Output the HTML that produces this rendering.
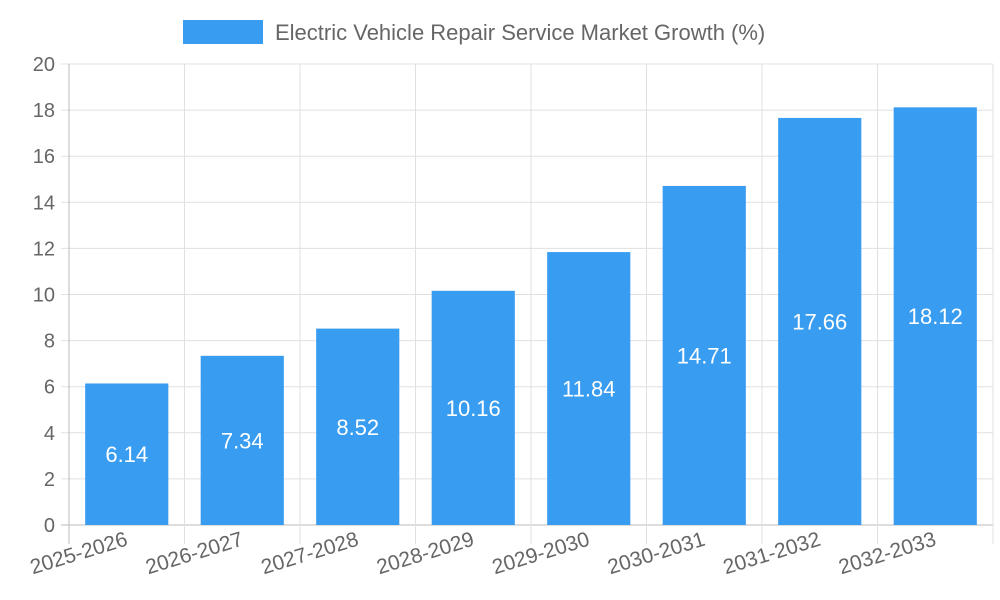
<!DOCTYPE html>
<html><head><meta charset="utf-8"><style>
body{margin:0;background:#fff;}
svg{display:block;font-family:"Liberation Sans",sans-serif;}
</style></head><body>
<svg width="1000" height="600">
<g id="g"></g>
</svg>
<script>
const categories=["2025-2026","2026-2027","2027-2028","2028-2029","2029-2030","2030-2031","2031-2032","2032-2033"];
const values=[6.14,7.34,8.52,10.16,11.84,14.71,17.66,18.12];
const yTicks=[0,2,4,6,8,10,12,14,16,18,20];
const L=69,R=993,T=64,B=525,yMax=20;
const bw=(R-L)/categories.length;
const y=v=>B-(v/yMax)*(B-T);
const x=i=>L+i*bw;
const g=document.getElementById('g');
const NS='http://www.w3.org/2000/svg';
function mk(t,a,txt){const e=document.createElementNS(NS,t);for(const k in a)e.setAttribute(k,a[k]);if(txt!=null)e.textContent=txt;g.appendChild(e);return e;}
// legend
let e=mk('rect',{x:183,y:20,width:80,height:24,fill:'#389cf0'});


e=mk('text',{x:275,y:40,'font-size':22,fill:'#666'},'Electric Vehicle Repair Service Market Growth (%)');


// horizontal grid + y ticks
yTicks.forEach(t=>{
 e=mk('line',{x1:L-8,x2:R,y1:y(t),y2:y(t),stroke:t===0?'#bbb':'#e0e0e0','stroke-width':1});
 
 
 e=mk('text',{x:L-14,y:y(t)+7,'font-size':20,fill:'#666','text-anchor':'end'},String(t));
 
 
});
// vertical grid
for(let i=0;i<=categories.length;i++){
 e=mk('line',{x1:x(i),x2:x(i),y1:T,y2:B+19,stroke:i===0?'#bbb':'#e0e0e0','stroke-width':1});
 
 
}
// bars
values.forEach((v,i)=>{
 const bx=x(i)+bw*0.14,w=bw*0.72;
 e=mk('rect',{x:bx,y:y(v),width:w,height:B-y(v),fill:'#389cf0'});
 
 
 e=mk('text',{x:x(i)+bw/2,y:(y(v)+B)/2+8,'font-size':22,fill:'#fff','text-anchor':'middle'},v.toFixed(2));
 
 
 const cx=x(i)+bw/2+2,cy=545;
 e=mk('text',{x:cx,y:cy,'font-size':21,fill:'#666','text-anchor':'end',transform:`rotate(-17 ${cx} ${cy})`},categories[i]);
 
 
});
</script>
</body></html>
